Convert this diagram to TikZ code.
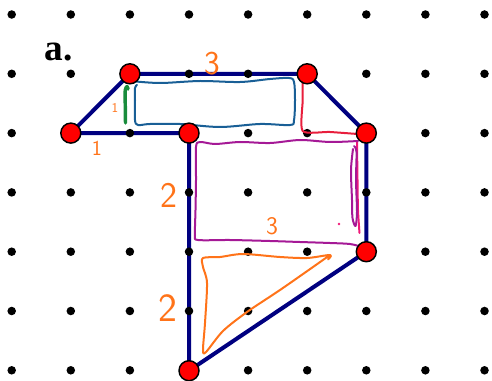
\documentclass[tikz,border=0pt]{standalone}
\usepackage{fontspec}
\setmainfont{Liberation Serif}
\definecolor{navyc}{RGB}{0,0,128}
\definecolor{penorange}{RGB}{255,115,25}
\definecolor{penblue}{RGB}{25,95,150}
\definecolor{pengreen}{RGB}{25,140,60}
\definecolor{penred}{RGB}{232,30,60}
\definecolor{penpink}{RGB}{240,25,120}
\definecolor{penmag}{RGB}{165,25,150}
\tikzset{
  navyline/.style={draw=navyc, line width=3pt, line join=round},
  griddot/.style={fill=black},
  vtx/.style={circle, fill=red, draw=black, line width=1.1pt, minimum size=15pt, inner sep=0pt},
  pen/.style={line width=1.5pt, line cap=round, line join=round},
  numlab/.style={text=penorange, font=\sffamily, inner sep=0pt},
}
\begin{document}
\begin{tikzpicture}[x=0.75pt,y=-0.75pt]
\useasboundingbox (0,0) rectangle (492,381);
% vertices
\coordinate (A) at (129.9,73.8);
\coordinate (B) at (307.2,73.8);
\coordinate (C) at (366.3,133.1);
\coordinate (D) at (366.3,251.7);
\coordinate (E) at (189,370.7);
\coordinate (F) at (189,133.1);
\coordinate (G) at (70.8,133.1);
% polygon
\draw[navyline] (A) -- (B) -- (C) -- (D) -- (E) -- (F) -- (G) -- cycle;
% grid dots
\foreach \i in {0,...,8}
  \foreach \j in {0,...,6}
    \fill[griddot] (11.7+59.1*\i, 14.5+59.3*\j) circle [radius=3.2pt];
% hand-drawn annotations
\draw[pen, penblue] plot[smooth, tension=0.55] coordinates {(131,81) (160,83) (200,81) (240,82) (270,79) (289,78) (294,82) (295,100) (294,120) (290,125) (260,124) (220,127) (180,124) (150,124) (138,125) (135,120) (135,100) (135,88) (137,85)};
\draw[pen, pengreen, line width=2.6pt] plot[smooth, tension=0.5] coordinates {(125.5,123) (125.2,100) (125.3,90) (127,86.5) (128,89)};
\draw[pen, penred] plot[smooth, tension=0.4] coordinates {(302.7,76) (302.7,100) (302.7,131) (330,132) (364,134.5)};
\draw[pen, penpink] plot[smooth, tension=0.5] coordinates {(357,142) (357.5,180) (358,210) (359.5,233)};
\draw[pen, penmag] plot[smooth, tension=0.5] coordinates {(353,149) (351,170) (352,200) (352.5,218) (355.5,226) (357,212) (356,180) (356.5,152) (354,146)};
\draw[pen, penmag] plot[smooth, tension=0.5] coordinates {(358,141) (330,142) (300,140) (270,143) (240,142) (215,144) (200,142) (196,147) (196,180) (195.5,210) (195,235) (198,240) (230,240) (270,241) (300,242) (330,243) (350,244) (362,247)};
\draw[pen, penorange] plot[smooth, tension=0.5] coordinates {(328,259.5) (330,255) (307,258) (280,257) (243,254) (220,257) (203,258) (203,267) (207,283) (205,323) (203,350) (206,352) (223,331) (247,312) (280,290) (313,267) (330,255)};
\fill[penpink] (339,224) circle [radius=1pt];
% labels
\node[font=\fontsize{28}{28}\selectfont\bfseries] (lbl) at (58.5,52) {a.};
\node[numlab, font=\sffamily\fontsize{25}{25}\selectfont] (t3) at (212,64) {3};
\node[numlab, font=\sffamily\fontsize{19}{19}\selectfont] (b3) at (272,226) {3};
\node[numlab, font=\sffamily\fontsize{27}{27}\selectfont] (u2) at (169,195) {2};
\node[numlab, font=\sffamily\fontsize{30}{30}\selectfont] (l2) at (168,308) {2};
\node[numlab, font=\sffamily\fontsize{16}{16}\selectfont] (o1) at (97,148) {1};
\node[numlab, font=\sffamily\fontsize{10}{10}\selectfont] (s1) at (115,107.5) {1};
% red vertices
\foreach \v in {A,B,C,D,E,F,G}
  \node[vtx] (\v dot) at (\v) {};
\end{tikzpicture}
\end{document}
